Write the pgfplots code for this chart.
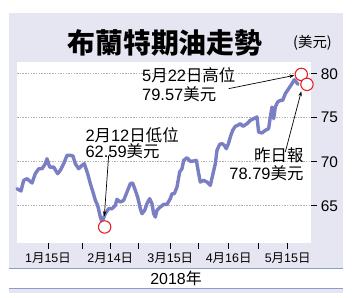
\documentclass[border=0pt]{standalone}
\usepackage{fontspec}
\setmainfont{Liberation Sans}
\newfontfamily\cjk{Noto Sans CJK TC}
\usepackage{pgfplots}
\pgfplotsset{compat=1.18}
\usetikzlibrary{arrows.meta}
\definecolor{lav}{RGB}{230,230,242}
\definecolor{oil}{RGB}{122,127,195}
\definecolor{band}{RGB}{140,156,203}
\definecolor{circ}{RGB}{232,32,42}
\newcommand{\C}[1]{{\cjk #1}}
\newcommand{\anno}{\fontsize{16.5}{18}\selectfont}
\begin{document}
\begin{tikzpicture}[x=1bp,y=1bp]
\fill[white] (0,0) rectangle (352,298);
\useasboundingbox (0,0) rectangle (352,298);
\fill[lav] (9,5) rectangle (343,285);
\fill[white] (9,9.7) rectangle (343,29.7);
\draw[band, line width=0.8bp] (9,29.7) -- (343,29.7);
\draw[band, line width=0.8bp] (9,9.7) -- (343,9.7);
\node[font=\fontsize{28}{28}\selectfont\cjk\bfseries] at (165,255) {布蘭特期油走勢};
\node[font=\fontsize{14.5}{14.5}\selectfont\cjk] at (312.5,255) {(美元)};
\node[font=\fontsize{16}{16}\selectfont] at (176,19.5) {2018\C{年}};
\begin{axis}[
  at={(17bp,55bp)}, anchor=south west,
  scale only axis, width=294.3bp, height=181bp,
  xmin=50, xmax=933, ymin=60.76, ymax=81.33,
  axis background/.style={fill=white},
  axis line style={draw=none},
  clip=false,
  /pgf/number format/assume math mode=true,
  ytick={65,70,75,80},
  ytick pos=right, yticklabel pos=right,
  ymajorgrids, grid style={black!30, dash pattern=on 1.5bp off 1.2bp, line width=0.5bp},
  xtick={143,330,510,685,862},
  xticklabels={1\C{月}15\C{日},2\C{月}14\C{日},3\C{月}15\C{日},4\C{月}16\C{日},5\C{月}15\C{日}},
  extra x ticks={245,415,595,773}, extra x tick labels={},
  xtick pos=bottom,
  tick align=outside,
  major tick length=6bp,
  tick style={black, line width=0.6bp},
  yticklabel style={font=\fontsize{15.5}{15.5}\selectfont},
  xticklabel style={font=\fontsize{12.5}{12.5}\selectfont},
]
\addplot[oil, line width=3.4bp, line join=round, line cap=round] table {
x y
50 66.93
62 66.67
70 67.88
80 68.07
95 67.58
105 68.64
115 69.20
125 69.20
135 69.77
140 70.34
148 69.39
160 69.39
172 68.64
180 69.02
190 69.77
200 70.72
210 70.72
218 70.64
225 69.77
235 69.20
245 69.58
252 69.77
262 68.64
270 67.50
278 66.55
285 65.61
292 65.04
300 63.71
305 63.14
315 64.09
325 64.66
335 64.66
345 65.04
350 65.72
360 65.42
370 65.61
380 66.55
390 67.50
397 67.58
405 66.74
412 65.98
420 64.66
425 64.09
433 64.47
440 65.23
448 65.80
455 65.23
460 64.09
465 63.71
470 64.47
480 64.85
490 65.15
500 65.15
510 65.80
515 66.36
522 66.36
530 67.12
538 68.83
545 69.20
550 70.15
560 70.45
570 70.04
580 70.08
588 70.15
595 68.64
600 67.69
610 67.88
620 67.69
630 67.31
638 68.64
645 69.77
650 71.29
658 71.97
665 72.05
672 71.86
678 71.48
685 72.12
690 72.80
697 73.56
705 74.02
712 74.13
720 74.32
728 74.02
740 74.32
750 74.70
760 74.89
770 75.08
775 73.37
785 73.26
795 73.56
805 73.75
810 75.08
815 76.21
820 74.89
825 76.21
832 76.78
840 76.97
847 76.97
855 77.73
865 78.30
875 78.86
882 79.32
888 79.05
893 78.79
};
\addplot[only marks, mark=*, mark size=6.2bp, mark options={draw=circ, fill=white, line width=1.1bp}] coordinates {(313,62.58) (903,79.92) (920,78.79)};
\draw[black, line width=0.7bp, -{Stealth[length=5bp,width=3.5bp]}] (axis cs:325,70.72) -- (axis cs:312,63.8);
\draw[black, line width=0.7bp, -{Stealth[length=5bp,width=3.5bp]}] (axis cs:685,78.30) -- (axis cs:882,79.81);
\draw[black, line width=0.7bp, -{Stealth[length=5bp,width=3.5bp]}] (axis cs:855,71.10) -- (axis cs:903,78.0);
\node[anchor=base west, inner sep=0, font=\anno] at (axis cs:425,79.13) {5\C{月}22\C{日高位}};
\node[anchor=base west, inner sep=0, font=\anno] at (axis cs:425,76.97) {79.57\C{美元}};
\node[anchor=base west, inner sep=0, font=\anno] at (axis cs:255,72.31) {2\C{月}12\C{日低位}};
\node[anchor=base west, inner sep=0, font=\anno] at (axis cs:255,70.42) {62.59\C{美元}};
\node[anchor=base east, inner sep=0, font=\anno] at (axis cs:910,70.04) {\C{昨日報}};
\node[anchor=base east, inner sep=0, font=\anno] at (axis cs:910,67.95) {78.79\C{美元}};
\end{axis}
\end{tikzpicture}
\end{document}
